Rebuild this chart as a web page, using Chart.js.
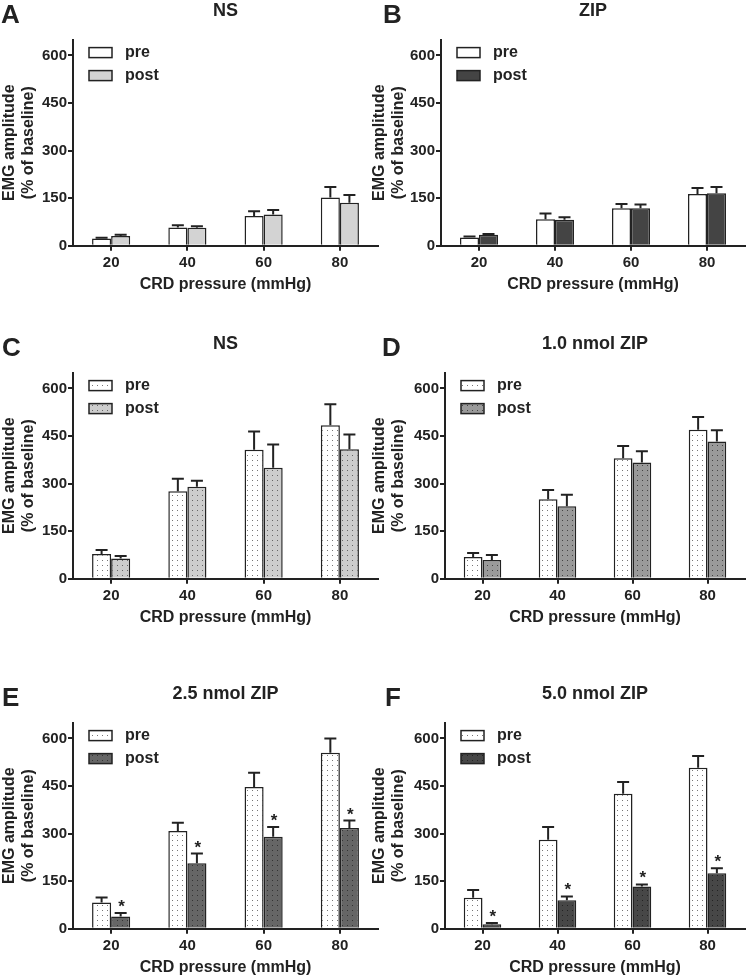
<!DOCTYPE html>
<html>
<head>
<meta charset="utf-8">
<script src="https://cdn.jsdelivr.net/npm/chart.js@4.4.1/dist/chart.umd.min.js"></script>
<style>
  body { margin: 0; background: #fff; }
  #wrap { position: relative; width: 750px; height: 977px; overflow: hidden; }
  canvas { position: absolute; }
</style>
</head>
<body>
<div id="wrap">
  <canvas id="cA" width="380" height="294" style="left:0;top:0"></canvas>
  <canvas id="cB" width="380" height="294" style="left:370px;top:0"></canvas>
  <canvas id="cC" width="380" height="294" style="left:0;top:333px"></canvas>
  <canvas id="cD" width="380" height="294" style="left:370px;top:333px"></canvas>
  <canvas id="cE" width="380" height="294" style="left:0;top:683px"></canvas>
  <canvas id="cF" width="380" height="294" style="left:370px;top:683px"></canvas>
</div>
<script>
// CRD pressure levels and y ticks
const categories = ["20", "40", "60", "80"];
const yTicks = [0, 150, 300, 450, 600];

// A: NS
const aPre = [23, 58, 94, 152];
const aPreErr = [2, 7, 15, 33];
const aPost = [31, 57, 99, 136];
const aPostErr = [4, 5, 14, 24];

// B: ZIP
const bPre = [26, 84, 118, 163];
const bPreErr = [3, 18, 14, 19];
const bPost = [35, 82, 118, 166];
const bPostErr = [2, 8, 12, 19];

// C: NS
const cPre = [78, 276, 407, 484];
const cPreErr = [13, 39, 57, 66];
const cPost = [64, 290, 350, 408];
const cPostErr = [8, 19, 73, 47];

// D: 1.0 nmol ZIP
const dPre = [69, 251, 380, 470];
const dPreErr = [12, 29, 39, 40];
const dPost = [59, 229, 367, 433];
const dPostErr = [16, 36, 35, 35];

// E: 2.5 nmol ZIP
const ePre = [83, 308, 447, 555];
const ePreErr = [16, 26, 45, 45];
const ePost = [39, 207, 290, 318];
const ePostErr = [11, 30, 31, 23];
const eStars = [true, true, true, true];

// F: 5.0 nmol ZIP
const fPre = [98, 281, 426, 508];
const fPreErr = [24, 40, 37, 37];
const fPost = [14, 90, 133, 175];
const fPostErr = [4, 12, 7, 16];
const fStars = [true, true, true, true];

const FONT = "'Liberation Sans', Arial, sans-serif";
const INK = "#222";

function dotPattern(ctx, bg, dot) {
  const c = document.createElement("canvas");
  c.width = 5;
  c.height = 5;
  const x = c.getContext("2d");
  x.fillStyle = bg;
  x.fillRect(0, 0, 5, 5);
  if (dot) {
    x.fillStyle = dot;
    x.fillRect(2, 2, 1, 1);
  }
  return ctx.createPattern(c, "repeat");
}

function makeChart(id, p) {
  const canvas = document.getElementById(id);
  const ctx = canvas.getContext("2d");
  const preFill = p.dotted ? dotPattern(ctx, "#ffffff", "#777") : "#ffffff";
  const postFill = p.dotted ? dotPattern(ctx, p.postColor, p.postDot) : p.postColor;

  const extras = {
    id: "extras",
    afterDatasetsDraw(chart) {
      const c = chart.ctx;
      const y = chart.scales.y;
      const area = chart.chartArea;
      c.save();
      c.strokeStyle = INK;
      c.fillStyle = INK;
      c.lineWidth = 2;
      [p.preErr, p.postErr].forEach((errs, di) => {
        const meta = chart.getDatasetMeta(di);
        meta.data.forEach((bar, i) => {
          const top = y.getPixelForValue(chart.data.datasets[di].data[i] + errs[i]);
          c.beginPath();
          c.moveTo(bar.x, bar.y);
          c.lineTo(bar.x, top);
          c.moveTo(bar.x - 6, top);
          c.lineTo(bar.x + 6, top);
          c.stroke();
          if (di === 1 && p.stars && p.stars[i]) {
            c.font = "bold 17px " + FONT;
            c.textAlign = "center";
            c.textBaseline = "alphabetic";
            c.fillText("*", bar.x + 1, top - 1);
          }
        });
      });

      // legend inside the plot, top-left
      const rows = [["pre", preFill, 13], ["post", postFill, 36]];
      c.lineWidth = 1.5;
      rows.forEach(([label, fill, dy]) => {
        const bx = area.left + 16;
        const by = area.top + dy - 5;
        c.fillStyle = fill;
        c.fillRect(bx, by, 23, 10);
        c.strokeRect(bx, by, 23, 10);
        c.fillStyle = INK;
        c.font = "bold 16px " + FONT;
        c.textAlign = "left";
        c.textBaseline = "middle";
        c.fillText(label, area.left + 52, area.top + dy);
      });

      // panel letter
      c.font = "bold 26px " + FONT;
      c.textAlign = "left";
      c.textBaseline = "alphabetic";
      c.fillText(p.letter, p.letterX, 23);
      c.restore();
    },
  };

  const tickFont = { family: FONT, size: 15, weight: "bold" };
  const titleFont = { family: FONT, size: 16, weight: "bold" };

  return new Chart(ctx, {
    type: "bar",
    data: {
      labels: categories,
      datasets: [
        { label: "pre", data: p.pre, backgroundColor: preFill, borderColor: INK, borderWidth: 1.5 },
        { label: "post", data: p.post, backgroundColor: postFill, borderColor: INK, borderWidth: 1.5 },
      ],
    },
    options: {
      responsive: false,
      animation: false,
      categoryPercentage: 0.5,
      barPercentage: 1,
      layout: { padding: { left: 0, right: p.padRight, top: 0, bottom: 0 } },
      plugins: {
        legend: { display: false },
        tooltip: { enabled: false },
        title: {
          display: true,
          text: p.title,
          fullSize: false,
          color: INK,
          font: { family: FONT, size: 18, weight: "bold" },
          padding: { top: 0, bottom: 18 },
        },
      },
      scales: {
        x: {
          grid: { display: true, drawOnChartArea: false, drawTicks: true, tickLength: 5, color: INK, lineWidth: 2, offset: false },
          border: { display: true, color: INK, width: 2 },
          ticks: { color: INK, font: tickFont, padding: 3 },
          title: { display: true, text: "CRD pressure (mmHg)", color: INK, font: titleFont, padding: { top: 0, bottom: 0 } },
        },
        y: {
          min: 0,
          max: 650,
          afterBuildTicks: (s) => {
            s.ticks = yTicks.map((v) => ({ value: v }));
          },
          afterFit: (s) => {
            s.width = p.yWidth;
          },
          grid: { display: true, drawOnChartArea: false, drawTicks: true, tickLength: 5, color: INK, lineWidth: 2 },
          border: { display: true, color: INK, width: 2 },
          ticks: { color: INK, font: tickFont, padding: 1 },
          title: {
            display: true,
            text: ["EMG amplitude", "(% of baseline)"],
            color: INK,
            font: titleFont,
            padding: { top: 0, bottom: 0 },
          },
        },
      },
    },
    plugins: [extras],
  });
}

makeChart("cA", { letter: "A", letterX: 1, title: "NS", pre: aPre, preErr: aPreErr, post: aPost, postErr: aPostErr,
  dotted: false, postColor: "#d3d3d3", yWidth: 73, padRight: 2 });
makeChart("cB", { letter: "B", letterX: 13, title: "ZIP", pre: bPre, preErr: bPreErr, post: bPost, postErr: bPostErr,
  dotted: false, postColor: "#444444", yWidth: 71, padRight: 5 });
makeChart("cC", { letter: "C", letterX: 2, title: "NS", pre: cPre, preErr: cPreErr, post: cPost, postErr: cPostErr,
  dotted: true, postColor: "#cdcdcd", postDot: "#666", yWidth: 73, padRight: 2 });
makeChart("cD", { letter: "D", letterX: 12, title: "1.0 nmol ZIP", pre: dPre, preErr: dPreErr, post: dPost, postErr: dPostErr,
  dotted: true, postColor: "#9a9a9a", postDot: "#444", yWidth: 75, padRight: 5 });
makeChart("cE", { letter: "E", letterX: 2, title: "2.5 nmol ZIP", pre: ePre, preErr: ePreErr, post: ePost, postErr: ePostErr,
  dotted: true, postColor: "#666666", postDot: "#333", stars: eStars, yWidth: 73, padRight: 2 });
makeChart("cF", { letter: "F", letterX: 15, title: "5.0 nmol ZIP", pre: fPre, preErr: fPreErr, post: fPost, postErr: fPostErr,
  dotted: true, postColor: "#474747", postDot: "#222", stars: fStars, yWidth: 75, padRight: 5 });
</script>
</body>
</html>
